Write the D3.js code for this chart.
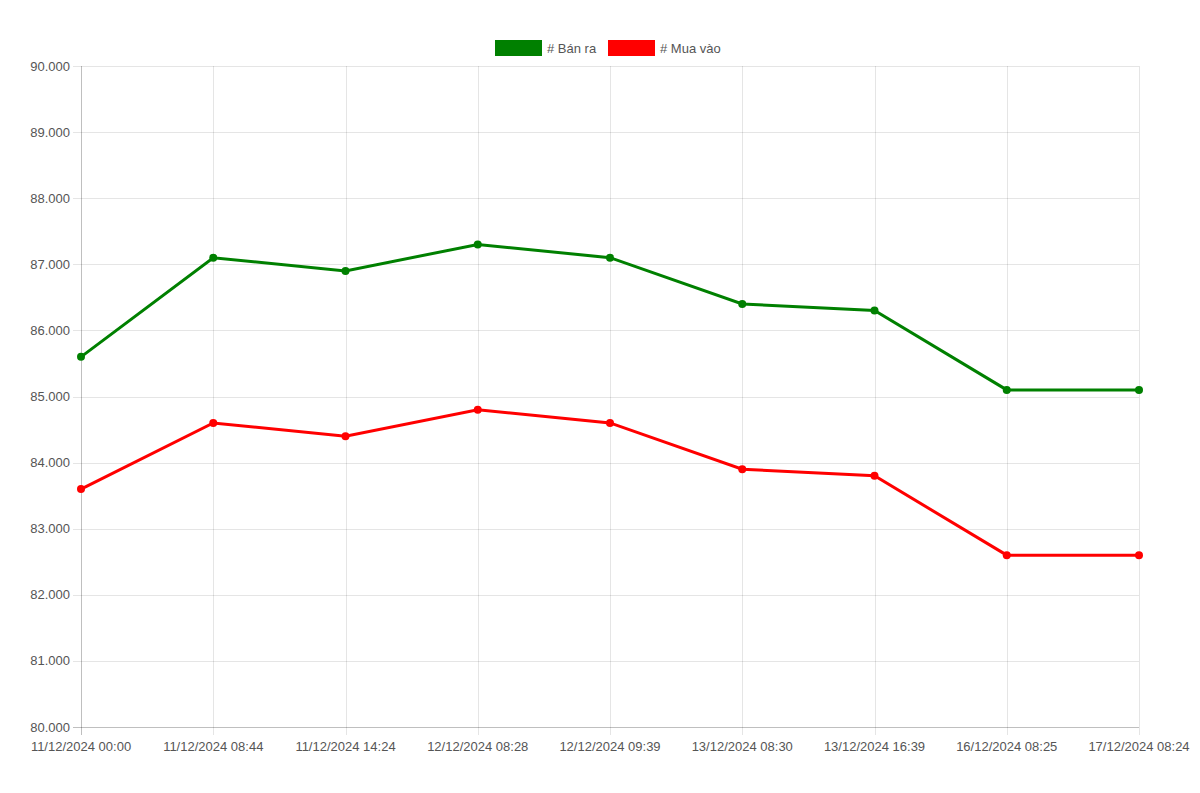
<!DOCTYPE html>
<meta charset="utf-8">
<title>Giá bán ra / mua vào</title>
<style>
body {
  margin: 0px;
  background: #fff;
}
text {
  font-family: "Liberation Sans", Arial, sans-serif;
  font-size: 13px;
  fill: #555;
}
.grid line {
  stroke: rgba(0,0,0,0.1);
  shape-rendering: crispEdges;
}
path.line {
  fill: none;
  stroke-width: 3;
}
</style>
<script src="https://d3js.org/d3.v7.min.js"></script>
<body>
<script>
var labels = ["11/12/2024 00:00", "11/12/2024 08:44", "11/12/2024 14:24", "12/12/2024 08:28",
              "12/12/2024 09:39", "13/12/2024 08:30", "13/12/2024 16:39", "16/12/2024 08:25",
              "17/12/2024 08:24"];
var banRa  = [85.6, 87.1, 86.9, 87.3, 87.1, 86.4, 86.3, 85.1, 85.1];
var muaVao = [83.6, 84.6, 84.4, 84.8, 84.6, 83.9, 83.8, 82.6, 82.6];
var yTicks = [80, 81, 82, 83, 84, 85, 86, 87, 88, 89, 90];

var series = [
  {name: "# Bán ra", values: banRa, color: "green"},
  {name: "# Mua vào", values: muaVao, color: "red"}
];

var width = 1200, height = 793;
var margin = {top: 66, right: 61, bottom: 66, left: 81};

var svg = d3.select("body").append("svg")
    .attr("width", width)
    .attr("height", height);

var x = d3.scalePoint()
    .domain(labels)
    .range([margin.left, width - margin.right]);
var y = d3.scaleLinear()
    .domain([80, 90])
    .range([height - margin.bottom, margin.top]);

var fmt = d3.format(".3f");

// horizontal grid + y labels
var gy = svg.append("g").attr("class", "grid");
gy.selectAll("line")
    .data(yTicks)
  .enter().append("line")
    .attr("x1", margin.left - 8)
    .attr("x2", width - margin.right)
    .attr("y1", function(d) { return Math.round(y(d)) + 0.5; })
    .attr("y2", function(d) { return Math.round(y(d)) + 0.5; })
    .style("stroke", function(d) { return d == 80 ? "rgba(0,0,0,0.25)" : null; });
svg.append("g").selectAll("text")
    .data(yTicks)
  .enter().append("text")
    .attr("x", margin.left - 11)
    .attr("y", function(d) { return y(d); })
    .attr("dy", "0.35em")
    .attr("text-anchor", "end")
    .text(function(d) { return fmt(d); });

// vertical grid + x labels
var gx = svg.append("g").attr("class", "grid");
gx.selectAll("line")
    .data(labels)
  .enter().append("line")
    .attr("x1", function(d) { return Math.round(x(d)) + 0.5; })
    .attr("x2", function(d) { return Math.round(x(d)) + 0.5; })
    .attr("y1", margin.top)
    .attr("y2", height - margin.bottom + 8)
    .style("stroke", function(d, i) { return i == 0 ? "rgba(0,0,0,0.25)" : null; });
svg.append("g").selectAll("text")
    .data(labels)
  .enter().append("text")
    .attr("x", function(d) { return x(d); })
    .attr("y", height - margin.bottom + 24)
    .attr("text-anchor", "middle")
    .text(function(d) { return d; });

// lines
var line = d3.line()
    .x(function(d, i) { return x(labels[i]); })
    .y(function(d) { return y(d); });

series.forEach(function(s) {
  svg.append("path")
      .attr("class", "line")
      .attr("d", line(s.values))
      .style("stroke", s.color);
  svg.append("g").selectAll("circle")
      .data(s.values)
    .enter().append("circle")
      .attr("cx", function(d, i) { return x(labels[i]); })
      .attr("cy", function(d) { return y(d); })
      .attr("r", 4)
      .style("fill", s.color);
});

// legend
var legend = svg.append("g");
var lx = [495, 608];
series.forEach(function(s, i) {
  legend.append("rect")
      .attr("x", lx[i])
      .attr("y", 40)
      .attr("width", 47)
      .attr("height", 16)
      .style("fill", s.color);
  legend.append("text")
      .attr("x", lx[i] + 52)
      .attr("y", 48)
      .attr("dy", "0.35em")
      .text(s.name);
});
</script>
